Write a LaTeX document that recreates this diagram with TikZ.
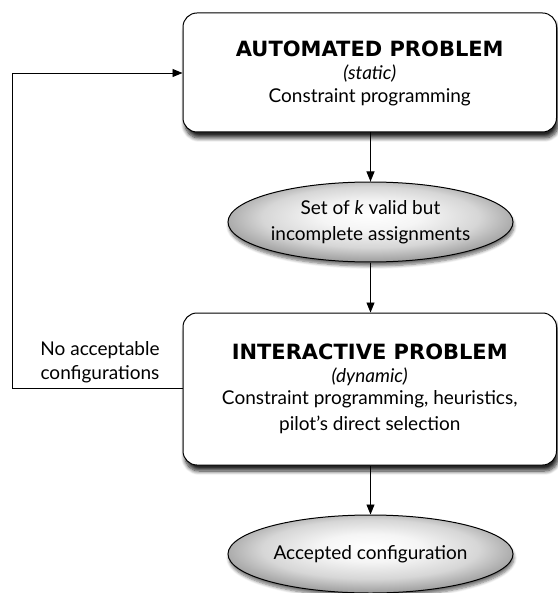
\documentclass[tikz,border=0pt]{standalone}
\usepackage{fontspec}
\setmainfont{Lato}
\newfontfamily\headfont{DejaVu Sans}
\usetikzlibrary{shadows,shadows.blur,arrows.meta,positioning,shapes.geometric}
\pgfdeclareradialshading{softball}{\pgfpoint{0bp}{5bp}}{color(0bp)=(white); color(9bp)=(black!4); color(19bp)=(black!16); color(27bp)=(black!38); color(50bp)=(black!38)}
\begin{document}
\begin{tikzpicture}[x=1pt,y=-1pt,
  probbox/.style={draw, line width=1pt, rounded corners=14pt, fill=white,
     minimum width=373.5pt, align=center, inner sep=0pt,
     blur shadow={shadow xshift=2pt, shadow yshift=-6pt, shadow blur steps=8, shadow opacity=85, shadow blur radius=4pt}},
  result/.style={draw, line width=1pt, ellipse, align=center, inner sep=0pt,
     shading=softball,
     blur shadow={shadow xshift=1pt, shadow yshift=-4pt, shadow blur steps=6, shadow opacity=55, shadow blur radius=3pt}},
  conn/.style={draw, line width=0.9pt, -{Triangle[length=10pt,width=8pt]}},
  body/.style={font=\fontsize{19}{26}\selectfont, align=center},
  head/.style={font=\fontsize{21}{24}\headfont\bfseries},
  sub/.style={font=\fontsize{19}{20}\selectfont\itshape}
]
\useasboundingbox (0,0) rectangle (557,593);
\node[probbox, minimum height=119pt] (auto) at (369.75,72.5) {};
\node[head] (ah) at (369.75,49) {AUTOMATED PROBLEM};
\node[sub] (st) at (369.75,74) {(static)};
\node[body] (cp) at (369.75,97) {Constraint programming};

\node[result, minimum width=285pt, minimum height=80pt, body] (set) at (370.5,222) {Set of \textit{k} valid but\\incomplete assignments};

\node[probbox, minimum height=152pt] (inter) at (369.75,389) {};
\node[head] (ih) at (369.75,352) {INTERACTIVE PROBLEM};
\node[sub] (dy) at (369.75,377) {(dynamic)};
\node[body] (cph) at (369.75,412) {Constraint programming, heuristics,\\pilot's direct selection};

\node[result, minimum width=285pt, minimum height=78pt, body] (acc) at (370.5,554) {Accepted configuration};

\coordinate (c1) at (12,388);
\coordinate (c2) at (12,73);
\draw[conn] (auto.south -| set.north) -- (set.north);
\draw[conn] (set.south) -- (set.south |- inter.north);
\draw[conn] (inter.south -| acc.north) -- (acc.north);
\draw[conn] (inter.west |- c1) -- (c1) -- (c2) -- (auto.west |- c2);
\node[body, font=\fontsize{19}{24}\selectfont] (lbl) at (100,362) {No acceptable\\configurations};
\end{tikzpicture}
\end{document}
